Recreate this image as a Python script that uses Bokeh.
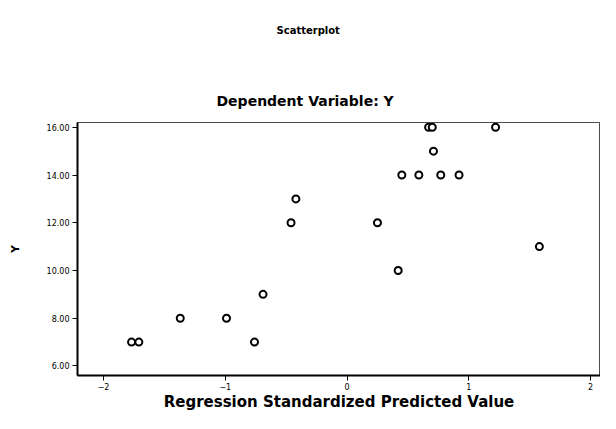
from bokeh.plotting import figure
from bokeh.models import Title, FixedTicker, NumeralTickFormatter, Range1d
from bokeh.embed import file_html
from bokeh.resources import INLINE

pred = [-1.77, -1.71, -1.37, -0.99, -0.76, -0.69, -0.46, -0.42, 0.25, 0.42,
        0.45, 0.59, 0.77, 0.92, 0.71, 0.67, 0.70, 1.22, 1.58]
yvals = [7, 7, 8, 8, 7, 9, 12, 13, 12, 10,
         14, 14, 14, 14, 15, 16, 16, 16, 11]
x_ticks = [-2, -1, 0, 1, 2]
y_ticks = [6, 8, 10, 12, 14, 16]

FONT = "DejaVu Sans"

p = figure(width=600, height=413, output_backend="svg", toolbar_location=None,
           x_range=Range1d(-2.214, 2.082), y_range=Range1d(5.6, 16.2),
           min_border_left=77, min_border_right=0, min_border_bottom=0,
           min_border_top=122)

p.title.text = "Scatterplot"
p.title.align = "left"
p.title.offset = 199
p.title.text_font = FONT
p.title.text_font_size = "10px"
p.title.text_font_style = "bold"
p.title.text_color = "black"
p.title.standoff = 0

t2 = Title(text="Dependent Variable: Y", align="left", offset=139,
           text_font=FONT, text_font_size="14px", text_font_style="bold",
           text_color="black", standoff=27)
p.add_layout(t2, "above")

spacer = Title(text=" ", text_font=FONT, text_font_size="10px", standoff=29)
p.add_layout(spacer, "above")

p.scatter(pred, yvals, marker="circle", size=7, fill_color="white",
          line_color="black", line_width=2)

p.xgrid.visible = False
p.ygrid.visible = False
p.outline_line_color = "black"
p.outline_line_width = 1
p.outline_line_alpha = 0.7

p.xaxis.ticker = FixedTicker(ticks=x_ticks)
p.yaxis.ticker = FixedTicker(ticks=y_ticks)
p.yaxis.formatter = NumeralTickFormatter(format="0.00")
p.xaxis.axis_label = "Regression Standardized Predicted Value"
p.yaxis.axis_label = "Y"
for ax in (p.xaxis[0], p.yaxis[0]):
    ax.axis_line_color = "black"
    ax.axis_line_width = 2
    ax.major_tick_line_color = "black"
    ax.major_tick_line_width = 1
    ax.major_tick_out = 5
    ax.major_tick_in = 0
    ax.minor_tick_line_color = None
    ax.major_label_text_font = FONT
    ax.major_label_text_font_size = "8px"
    ax.major_label_text_color = "black"
    ax.axis_label_text_font = FONT
    ax.axis_label_text_font_style = "bold"
    ax.axis_label_text_color = "black"
p.xaxis.axis_label_text_font_size = "15px"
p.xaxis.axis_label_standoff = 0
p.xaxis.major_label_standoff = 2
p.yaxis.axis_label_text_font_size = "11px"
p.yaxis.axis_label_standoff = 22
p.yaxis.major_label_standoff = 3

open("out.html", "w").write(file_html(p, INLINE))
